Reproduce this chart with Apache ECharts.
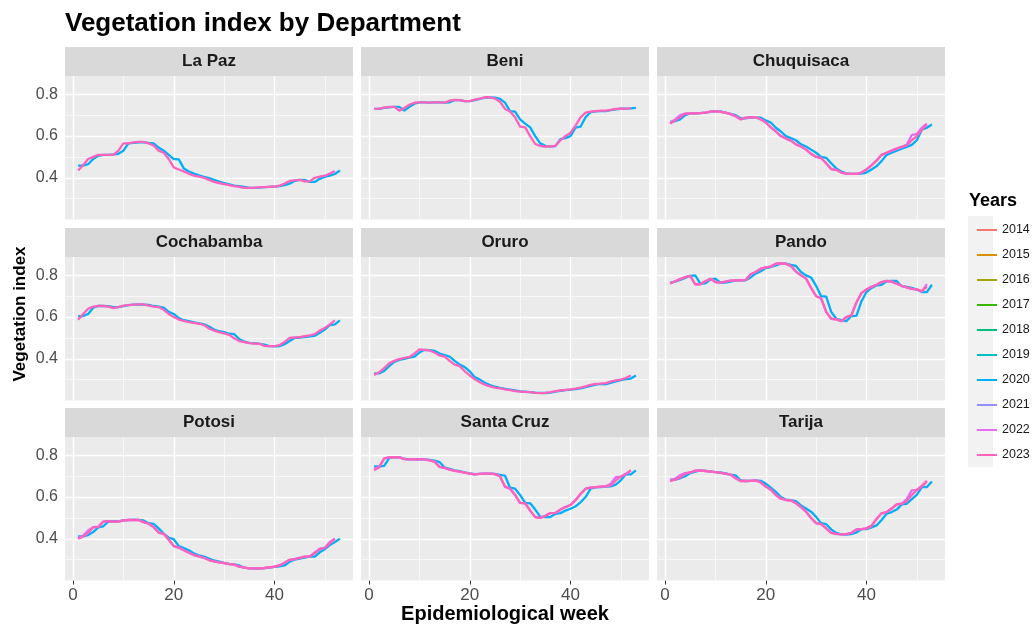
<!DOCTYPE html>
<html><head><meta charset="utf-8">
<script src="https://cdn.jsdelivr.net/npm/echarts@6/dist/echarts.min.js"></script>
<style>html,body{margin:0;padding:0;background:#fff}#c{width:1032px;height:625px}</style>
</head><body><div id="c"></div>
<script>
const departments = ["La Paz","Beni","Chuquisaca","Cochabamba","Oruro","Pando","Potosi","Santa Cruz","Tarija"];
const years = ["2014","2015","2016","2017","2018","2019","2020","2021","2022","2023"];
const yearColors = ["#F8766D","#D89000","#A3A500","#39B600","#00BF7D","#00BFC4","#00B0F6","#9590FF","#E76BF3","#FF62BC"];
const xTicks = [0,20,40];
const yTicks = [0.4,0.6,0.8];

const laPaz2020 = [0.458,0.458,0.465,0.49,0.505,0.51,0.51,0.512,0.515,0.53,0.565,0.567,0.57,0.57,0.567,0.565,0.545,0.53,0.51,0.49,0.488,0.445,0.43,0.42,0.412,0.405,0.398,0.39,0.382,0.375,0.368,0.362,0.36,0.356,0.352,0.352,0.353,0.355,0.356,0.358,0.36,0.365,0.372,0.385,0.39,0.39,0.38,0.38,0.395,0.405,0.41,0.418,0.435];
const laPaz2023 = [0.435,0.46,0.49,0.50,0.51,0.51,0.51,0.51,0.53,0.565,0.565,0.57,0.572,0.572,0.565,0.555,0.53,0.52,0.49,0.45,0.44,0.43,0.42,0.41,0.405,0.40,0.39,0.38,0.375,0.37,0.365,0.36,0.357,0.352,0.352,0.352,0.355,0.355,0.357,0.358,0.362,0.372,0.385,0.388,0.39,0.383,0.383,0.40,0.405,0.41,0.42,0.433];

const beni2020 = [0.730,0.730,0.735,0.738,0.740,0.740,0.722,0.740,0.755,0.762,0.762,0.760,0.762,0.762,0.760,0.762,0.772,0.772,0.768,0.768,0.772,0.778,0.784,0.786,0.784,0.778,0.760,0.720,0.717,0.680,0.660,0.642,0.600,0.565,0.553,0.550,0.552,0.585,0.590,0.600,0.640,0.645,0.690,0.715,0.718,0.720,0.720,0.724,0.728,0.731,0.732,0.733,0.735];
const beni2023 = [0.730,0.732,0.736,0.740,0.740,0.722,0.735,0.750,0.760,0.762,0.762,0.760,0.762,0.762,0.760,0.770,0.773,0.772,0.768,0.768,0.775,0.780,0.786,0.786,0.780,0.765,0.730,0.718,0.690,0.645,0.642,0.600,0.562,0.553,0.550,0.550,0.553,0.580,0.600,0.615,0.650,0.690,0.712,0.717,0.720,0.722,0.722,0.726,0.730,0.731,0.732,0.733];

const chuquisaca2020 = [0.668,0.672,0.680,0.700,0.709,0.709,0.710,0.712,0.716,0.720,0.718,0.712,0.706,0.700,0.685,0.685,0.690,0.690,0.688,0.675,0.665,0.640,0.622,0.600,0.590,0.580,0.560,0.550,0.535,0.520,0.500,0.496,0.470,0.445,0.430,0.421,0.419,0.419,0.420,0.425,0.440,0.455,0.480,0.510,0.520,0.530,0.540,0.548,0.558,0.580,0.630,0.640,0.655];
const chuquisaca2022 = [0.662,0.680,0.700,0.708,0.709,0.709,0.710,0.712,0.717,0.720,0.716,0.712,0.705,0.695,0.680,0.688,0.690,0.690,0.680,0.665,0.642,0.622,0.600,0.588,0.578,0.560,0.550,0.535,0.515,0.500,0.495,0.470,0.442,0.438,0.425,0.420,0.419,0.419,0.425,0.440,0.460,0.482,0.510,0.520,0.530,0.540,0.548,0.558,0.605,0.610,0.640,0.660];
const chuquisaca2023 = [0.660,0.675,0.690,0.708,0.709,0.709,0.710,0.712,0.717,0.720,0.716,0.712,0.705,0.695,0.680,0.688,0.690,0.690,0.680,0.665,0.642,0.622,0.600,0.588,0.578,0.560,0.550,0.535,0.515,0.500,0.495,0.470,0.442,0.438,0.425,0.420,0.419,0.419,0.425,0.440,0.460,0.482,0.510,0.520,0.530,0.540,0.548,0.555,0.580,0.600,0.630,0.655];

const cochabamba2020 = [0.605,0.605,0.615,0.645,0.653,0.653,0.652,0.648,0.648,0.652,0.657,0.660,0.661,0.660,0.658,0.653,0.650,0.645,0.625,0.615,0.595,0.585,0.580,0.575,0.570,0.565,0.555,0.540,0.532,0.528,0.520,0.518,0.495,0.482,0.476,0.474,0.472,0.468,0.461,0.460,0.461,0.470,0.485,0.500,0.502,0.504,0.508,0.510,0.525,0.540,0.562,0.565,0.584];
const cochabamba2023 = [0.587,0.615,0.640,0.650,0.653,0.653,0.650,0.643,0.648,0.655,0.657,0.660,0.661,0.661,0.655,0.650,0.648,0.635,0.615,0.600,0.588,0.582,0.576,0.572,0.568,0.562,0.545,0.535,0.528,0.522,0.515,0.498,0.485,0.480,0.475,0.473,0.472,0.462,0.461,0.461,0.465,0.480,0.500,0.502,0.504,0.508,0.512,0.518,0.535,0.548,0.565,0.584];

const oruro2020 = [0.330,0.330,0.342,0.365,0.385,0.395,0.400,0.406,0.410,0.430,0.443,0.442,0.438,0.425,0.418,0.410,0.390,0.372,0.360,0.340,0.312,0.300,0.285,0.274,0.266,0.260,0.256,0.252,0.248,0.244,0.242,0.240,0.238,0.237,0.236,0.238,0.242,0.246,0.250,0.252,0.255,0.258,0.264,0.270,0.276,0.280,0.278,0.285,0.292,0.298,0.302,0.305,0.320];
const oruro2023 = [0.323,0.335,0.355,0.378,0.390,0.398,0.404,0.408,0.425,0.445,0.443,0.440,0.430,0.416,0.410,0.390,0.372,0.365,0.340,0.320,0.302,0.288,0.276,0.268,0.262,0.258,0.253,0.250,0.245,0.243,0.241,0.240,0.237,0.235,0.237,0.240,0.245,0.248,0.251,0.253,0.257,0.262,0.268,0.275,0.280,0.281,0.283,0.290,0.296,0.300,0.308,0.320];

const pando2020 = [0.765,0.770,0.778,0.788,0.797,0.800,0.760,0.762,0.780,0.784,0.765,0.765,0.770,0.775,0.776,0.776,0.790,0.808,0.820,0.835,0.840,0.848,0.856,0.856,0.850,0.845,0.816,0.800,0.790,0.750,0.700,0.698,0.625,0.592,0.585,0.580,0.605,0.606,0.675,0.720,0.740,0.752,0.755,0.772,0.773,0.773,0.748,0.745,0.740,0.732,0.720,0.720,0.755];
const pando2022 = [0.762,0.772,0.782,0.792,0.797,0.757,0.757,0.772,0.784,0.768,0.765,0.770,0.775,0.776,0.776,0.778,0.805,0.816,0.832,0.838,0.842,0.856,0.858,0.855,0.845,0.818,0.800,0.785,0.740,0.700,0.690,0.625,0.592,0.589,0.580,0.600,0.608,0.670,0.715,0.732,0.745,0.755,0.768,0.773,0.770,0.760,0.750,0.742,0.735,0.733,0.722,0.758];
const pando2023 = [0.760,0.772,0.782,0.792,0.797,0.757,0.757,0.772,0.784,0.768,0.765,0.770,0.775,0.776,0.776,0.778,0.805,0.816,0.832,0.838,0.842,0.856,0.858,0.855,0.845,0.818,0.800,0.785,0.740,0.700,0.690,0.625,0.592,0.589,0.580,0.600,0.608,0.670,0.715,0.732,0.745,0.755,0.768,0.773,0.770,0.760,0.750,0.742,0.735,0.733,0.725,0.745];

const potosi2020 = [0.411,0.411,0.418,0.432,0.455,0.460,0.482,0.484,0.484,0.488,0.490,0.491,0.491,0.488,0.475,0.472,0.450,0.425,0.405,0.398,0.365,0.355,0.345,0.330,0.320,0.315,0.305,0.296,0.290,0.284,0.280,0.277,0.272,0.262,0.258,0.257,0.258,0.259,0.262,0.265,0.268,0.272,0.290,0.300,0.305,0.310,0.314,0.315,0.335,0.350,0.370,0.384,0.400];
const potosi2022 = [0.402,0.415,0.440,0.456,0.458,0.482,0.485,0.482,0.482,0.488,0.490,0.491,0.490,0.480,0.472,0.456,0.430,0.424,0.395,0.365,0.358,0.345,0.333,0.322,0.316,0.308,0.298,0.292,0.287,0.283,0.279,0.276,0.266,0.262,0.258,0.258,0.258,0.260,0.263,0.266,0.272,0.285,0.299,0.303,0.309,0.314,0.315,0.335,0.352,0.357,0.385,0.400];
const potosi2023 = [0.400,0.410,0.428,0.455,0.456,0.482,0.485,0.482,0.482,0.488,0.490,0.491,0.490,0.480,0.472,0.456,0.430,0.424,0.395,0.365,0.358,0.345,0.333,0.322,0.316,0.308,0.298,0.292,0.287,0.283,0.279,0.276,0.266,0.262,0.258,0.258,0.258,0.260,0.263,0.266,0.272,0.285,0.299,0.303,0.309,0.314,0.315,0.330,0.350,0.357,0.378,0.400];

const santaCruz2020 = [0.747,0.747,0.750,0.787,0.792,0.790,0.784,0.781,0.781,0.781,0.781,0.778,0.775,0.768,0.742,0.735,0.728,0.724,0.718,0.713,0.710,0.711,0.712,0.712,0.711,0.706,0.703,0.645,0.640,0.610,0.572,0.570,0.540,0.506,0.504,0.504,0.520,0.523,0.535,0.544,0.555,0.575,0.600,0.640,0.646,0.648,0.650,0.651,0.660,0.680,0.709,0.709,0.728];
const santaCruz2022 = [0.735,0.745,0.785,0.790,0.792,0.790,0.782,0.781,0.781,0.781,0.781,0.776,0.770,0.745,0.740,0.731,0.726,0.722,0.717,0.712,0.709,0.711,0.712,0.712,0.710,0.700,0.650,0.640,0.610,0.572,0.570,0.535,0.504,0.500,0.510,0.523,0.524,0.540,0.552,0.562,0.585,0.615,0.640,0.645,0.648,0.650,0.652,0.664,0.695,0.698,0.712,0.728];
const santaCruz2023 = [0.728,0.742,0.785,0.790,0.792,0.790,0.782,0.781,0.781,0.781,0.781,0.776,0.770,0.745,0.740,0.731,0.726,0.722,0.717,0.712,0.709,0.711,0.712,0.712,0.710,0.700,0.650,0.640,0.610,0.572,0.570,0.535,0.504,0.500,0.510,0.523,0.524,0.540,0.552,0.562,0.585,0.615,0.640,0.645,0.648,0.650,0.651,0.655,0.680,0.697,0.710,0.728];

const tarija2020 = [0.684,0.684,0.690,0.700,0.715,0.722,0.728,0.726,0.723,0.720,0.718,0.713,0.708,0.704,0.680,0.677,0.678,0.680,0.678,0.665,0.645,0.625,0.600,0.588,0.585,0.580,0.560,0.545,0.530,0.505,0.475,0.470,0.445,0.428,0.421,0.420,0.422,0.430,0.446,0.446,0.455,0.464,0.490,0.520,0.528,0.540,0.565,0.568,0.590,0.610,0.648,0.648,0.675];
const tarija2022 = [0.680,0.688,0.705,0.715,0.718,0.727,0.728,0.725,0.722,0.720,0.716,0.712,0.708,0.690,0.677,0.677,0.678,0.680,0.670,0.650,0.635,0.610,0.592,0.586,0.584,0.570,0.552,0.530,0.500,0.475,0.470,0.450,0.428,0.424,0.421,0.422,0.428,0.445,0.446,0.450,0.462,0.495,0.522,0.528,0.545,0.565,0.568,0.590,0.632,0.635,0.655,0.678];
const tarija2023 = [0.677,0.683,0.693,0.712,0.718,0.727,0.728,0.725,0.722,0.720,0.716,0.712,0.708,0.690,0.677,0.677,0.678,0.680,0.670,0.650,0.635,0.610,0.592,0.586,0.584,0.570,0.552,0.530,0.500,0.475,0.470,0.450,0.428,0.424,0.421,0.422,0.428,0.445,0.446,0.450,0.462,0.495,0.522,0.528,0.545,0.565,0.568,0.580,0.610,0.633,0.650,0.675];

// table built from the named arrays: department index -> year -> values
const deptSeries = [
  {"2020": laPaz2020, "2023": laPaz2023},
  {"2020": beni2020, "2023": beni2023},
  {"2020": chuquisaca2020, "2022": chuquisaca2022, "2023": chuquisaca2023},
  {"2020": cochabamba2020, "2023": cochabamba2023},
  {"2020": oruro2020, "2023": oruro2023},
  {"2020": pando2020, "2022": pando2022, "2023": pando2023},
  {"2020": potosi2020, "2022": potosi2022, "2023": potosi2023},
  {"2020": santaCruz2020, "2022": santaCruz2022, "2023": santaCruz2023},
  {"2020": tarija2020, "2022": tarija2022, "2023": tarija2023}
];

const FONT = '"Liberation Sans", Arial, Helvetica, sans-serif';
const colLeft = [65, 361, 657];
const rowTop = [76, 257, 437];
const panelW = 288, panelH = 143.5, stripH = 29;

const grids = [], xAxes = [], yAxes = [], series = [], graphics = [];

departments.forEach((name, i) => {
  const col = i % 3, row = Math.floor(i / 3);
  grids.push({left: colLeft[col], top: rowTop[row], width: panelW, height: panelH,
    show: true, backgroundColor: '#EBEBEB', borderWidth: 0, containLabel: false, outerBoundsMode: 'none'});
  const bottomRow = row === 2, leftCol = col === 0;
  xAxes.push({type: 'value', gridIndex: i, min: -1.6, max: 55.6,
    splitLine: {show: false}, axisLine: {show: false},
    axisTick: {show: bottomRow, customValues: xTicks, length: 4, lineStyle: {color: '#333333', width: 1}},
    axisLabel: {show: bottomRow, customValues: xTicks, margin: 6, fontSize: 17, color: '#4D4D4D', fontFamily: FONT},
    name: (i === 7) ? 'Epidemiological week' : '', nameLocation: 'middle', nameGap: 23,
    nameTextStyle: {fontSize: 20, fontWeight: 'bold', color: '#000', fontFamily: FONT, verticalAlign: 'top'}
  });
  yAxes.push({type: 'value', gridIndex: i, min: 0.2, max: 0.888,
    splitLine: {show: false}, axisLine: {show: false},
    axisTick: {show: leftCol, customValues: yTicks, length: 4, lineStyle: {color: '#333333', width: 1}},
    axisLabel: {show: leftCol, customValues: yTicks, margin: 7, fontSize: 16, color: '#4D4D4D', fontFamily: FONT,
      formatter: v => v.toFixed(1)}
  });
  // grid lines (white) drawn through the axes' scales
  const major = {lineStyle: {color: '#FFFFFF', width: 1.3, type: 'solid'}};
  const minor = {lineStyle: {color: '#FFFFFF', width: 0.65, type: 'solid'}};
  const ml = [];
  [10, 30, 50].forEach(v => ml.push(Object.assign({xAxis: v}, minor)));
  [0.3, 0.5, 0.7].forEach(v => ml.push(Object.assign({yAxis: v}, minor)));
  xTicks.forEach(v => ml.push(Object.assign({xAxis: v}, major)));
  yTicks.forEach(v => ml.push(Object.assign({yAxis: v}, major)));
  series.push({type: 'line', name: '_grid' + i, xAxisIndex: i, yAxisIndex: i, data: [], z: 1, silent: true,
    markLine: {silent: true, symbol: ['none', 'none'], label: {show: false}, animation: false, data: ml}});

  years.forEach((yr, k) => {
    const vals = deptSeries[i][yr];
    if (!vals && !(i === 0)) return;
    series.push({type: 'line', name: yr, xAxisIndex: i, yAxisIndex: i,
      data: vals ? vals.map((v, w) => [w + 1, v]) : [],
      showSymbol: false, symbol: 'none', z: 2 + k,
      lineStyle: {color: yearColors[k], width: 2.3},
      itemStyle: {color: yearColors[k]}, color: yearColors[k], animation: false});
  });

  graphics.push({type: 'rect', shape: {x: colLeft[col], y: rowTop[row] - stripH, width: panelW, height: stripH},
    style: {fill: '#D9D9D9'}, silent: true});
  graphics.push({type: 'text', x: colLeft[col] + panelW / 2, y: rowTop[row] - stripH / 2,
    style: {text: name, font: 'bold 17px ' + FONT, fill: '#1A1A1A', align: 'center', verticalAlign: 'middle'}, silent: true});
});

graphics.push({type: 'text', x: 20, y: 314, rotation: Math.PI / 2,
  style: {text: 'Vegetation index', font: 'bold 17px ' + FONT, fill: '#000', align: 'center', verticalAlign: 'middle'}});
graphics.push({type: 'text', x: 969, y: 201,
  style: {text: 'Years', font: 'bold 18px ' + FONT, fill: '#000', align: 'left', verticalAlign: 'middle'}});
graphics.push({type: 'rect', z: -1, shape: {x: 968, y: 216, width: 25, height: 251}, style: {fill: '#F2F2F2'}});

const chart = echarts.init(document.getElementById('c'), null, {renderer: 'canvas'});
chart.setOption({
  animation: false,
  backgroundColor: '#FFFFFF',
  title: {text: 'Vegetation index by Department', left: 60, top: 6,
    textStyle: {fontSize: 26, fontWeight: 'bold', color: '#000', fontFamily: FONT}},
  legend: {data: years, orient: 'vertical', left: 972, top: 218, itemWidth: 20, itemHeight: 2,
    icon: 'rect', itemGap: 11, selectedMode: false,
    textStyle: {fontSize: 12.5, color: '#1A1A1A', fontFamily: FONT, lineHeight: 14}},
  grid: grids, xAxis: xAxes, yAxis: yAxes, series: series, graphic: graphics
});
</script></body></html>
